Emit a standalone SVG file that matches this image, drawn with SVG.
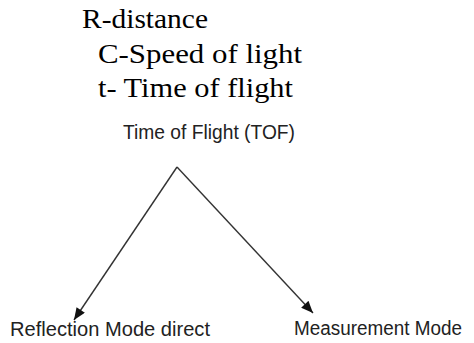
<svg xmlns="http://www.w3.org/2000/svg" width="474" height="343" viewBox="0 0 474 343">
<style>
.serif{font-family:"Liberation Serif","Times New Roman",serif;font-size:27px;fill:#000}
.sans{font-family:"Liberation Sans",Arial,sans-serif;font-size:20px;fill:#222}
.conn{stroke:#333;stroke-width:1.4;fill:none}
</style>
<defs>
<marker id="arr" viewBox="0 0 12 10" refX="12" refY="5" markerWidth="13" markerHeight="10" markerUnits="userSpaceOnUse" orient="auto">
<path d="M0,0 L12,5 L0,10 z" fill="#111"/>
</marker>
</defs>
<rect width="474" height="343" fill="#fff"/>
<g id="legend">
<text class="serif" x="82" y="28" textLength="126" lengthAdjust="spacingAndGlyphs">R-distance</text>
<text class="serif" x="98" y="63" textLength="204" lengthAdjust="spacingAndGlyphs">C-Speed of light</text>
<text class="serif" x="98" y="97" textLength="195" lengthAdjust="spacingAndGlyphs">t- Time of flight</text>
</g>
<g id="tof">
<text class="sans" x="123" y="139" textLength="172" lengthAdjust="spacingAndGlyphs">Time of Flight (TOF)</text>
</g>
<g id="reflection">
<text class="sans" x="10" y="336" textLength="200" lengthAdjust="spacingAndGlyphs">Reflection Mode direct</text>
</g>
<g id="measurement">
<text class="sans" x="294" y="335" textLength="168" lengthAdjust="spacingAndGlyphs">Measurement Mode</text>
</g>
<g id="connectors">
<line class="conn" x1="177" y1="167" x2="74" y2="320" marker-end="url(#arr)"/>
<line class="conn" x1="177" y1="167" x2="313" y2="313" marker-end="url(#arr)"/>
</g>
</svg>
